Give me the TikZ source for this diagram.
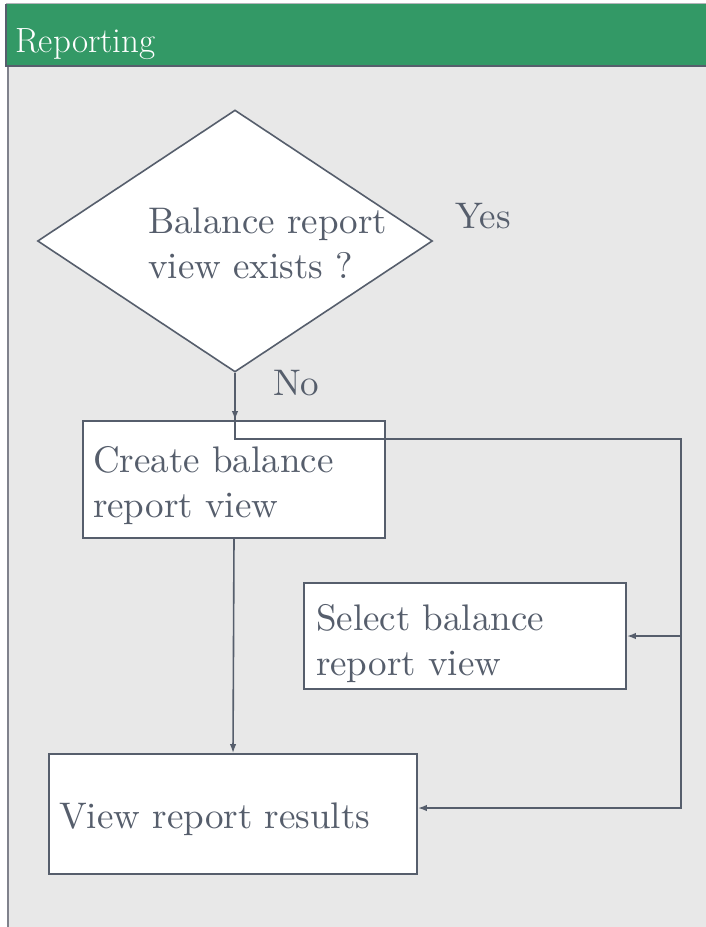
\documentclass[tikz,border=0pt]{standalone}
\usepackage{fontspec}
\usepackage{tikz}
\usepackage{amsmath}
\usetikzlibrary{arrows.meta,shapes.geometric}

\newfontfamily\bodyfont{lmroman10-regular.otf}

\definecolor{lanegreen}{RGB}{51,153,102}
\definecolor{lanegray}{RGB}{232,232,232}
\definecolor{inkgray}{RGB}{86,94,108}
\definecolor{edgegray}{RGB}{128,130,140}

\tikzset{
    stepbox/.style={draw=inkgray, fill=white, line width=1.8pt, rectangle,
        inner xsep=10pt, inner ysep=0pt, align=left, text=inkgray,
        font=\bodyfont\fontsize{37}{45}\selectfont},
    flow/.style={draw=inkgray, line width=1.6pt, -{Latex[length=9pt,width=6.5pt]}},
    tag/.style={text=inkgray, anchor=base west, inner sep=0pt,
        font=\bodyfont\fontsize{37}{45}\selectfont}
}

\begin{document}
\begin{tikzpicture}[x=1pt,y=-1pt]
    \useasboundingbox (0,0) rectangle (706,927);
    % lane body and header
    \fill[lanegray] (8,66) rectangle (706,927);
    \draw[edgegray, line width=1.5pt] (8,66) -- (8,927);
    \fill[lanegreen] (6,4) rectangle (706,66);
    \draw[edgegray!60, line width=1pt] (6,3.5) -- (706,3.5);
    \draw[inkgray, line width=2pt] (6,4) -- (6,66) -- (706,66);
    \node[anchor=base west, inner sep=0pt, text=white,
        font=\fontsize{35}{40}\selectfont] (lanetitle) at (15,52) {Reporting};
    % decision
    \node[diamond, draw=inkgray, fill=white, line width=1.6pt, inner sep=0pt,
        minimum width=395pt, minimum height=262pt, aspect=1.5] (decide) at (235,241) {};
    \node[tag, align=left] (question) at (148,278) {Balance report\\view exists ?};
    \node[tag] (yes) at (455,228) {Yes};
    \node[tag] (no) at (273,395) {No};
    % steps
    \node[stepbox, minimum width=302pt, minimum height=117pt, text width=282pt]
        (create) at (234,479.5) {\rule{0pt}{39pt}Create balance\\report view};
    \node[stepbox, inner xsep=12pt, minimum width=322pt, minimum height=106pt,
        text width=298pt] (select) at (465,636) {\rule{0pt}{41pt}Select balance\\report view};
    \node[stepbox, minimum width=368pt, minimum height=120pt, text width=348pt,
        text height=35pt, text depth=7pt] (results) at (233,814) {View report results};
    % connectors
    \coordinate (bend) at (681,439);
    \coordinate (fork) at (681,636);
    \draw[flow] (decide.south) -- (create.north -| decide.south);
    \draw[flow] (decide.south) |- (bend) |- ([yshift=6pt]results.east);
    \draw[flow] (fork) -- (select.east);
    \draw[flow] (create.south) -- (results.north);
\end{tikzpicture}
\end{document}
